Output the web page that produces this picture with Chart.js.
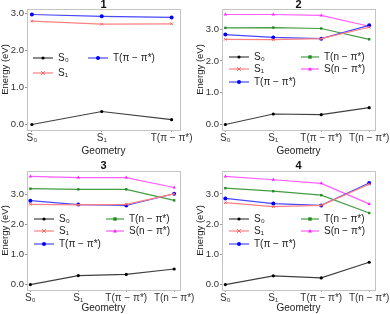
<!DOCTYPE html>
<html>
<head>
<meta charset="utf-8">
<script src="https://cdn.jsdelivr.net/npm/chart.js@4/dist/chart.umd.min.js"></script>
<style>
html,body{margin:0;padding:0;background:#fff;}
#wrap{position:relative;width:390px;height:314px;overflow:hidden;}
canvas{position:absolute;}
</style>
</head>
<body>
<div id="wrap">
<canvas id="c1" width="195" height="157" style="left:0;top:0"></canvas>
<canvas id="c2" width="195" height="157" style="left:195px;top:0"></canvas>
<canvas id="c3" width="195" height="157" style="left:0;top:157px"></canvas>
<canvas id="c4" width="195" height="157" style="left:195px;top:157px"></canvas>
</div>
<script>
// ---------- data ----------
const geom3 = ['S\u2080', 'S\u2081', 'T(\u03c0 \u2212 \u03c0*)'];
const geom4 = ['S\u2080', 'S\u2081', 'T(\u03c0 \u2212 \u03c0*)', 'T(n \u2212 \u03c0*)'];
const stateNames = ['S\u2080', 'S\u2081', 'T(\u03c0 \u2212 \u03c0*)', 'T(n \u2212 \u03c0*)', 'S(n \u2212 \u03c0*)'];

const p1_S0  = [0.00, 0.35, 0.13];
const p1_S1  = [2.78, 2.70, 2.71];
const p1_Tpp = [2.96, 2.91, 2.88];

const p2_S0  = [0.00, 0.33, 0.31, 0.53];
const p2_S1  = [2.68, 2.67, 2.70, 3.06];
const p2_Tpp = [2.83, 2.74, 2.70, 3.12];
const p2_Tnp = [3.04, 3.05, 3.02, 2.68];
const p2_Snp = [3.46, 3.46, 3.43, 3.09];

const p3_S0  = [0.00, 0.30, 0.34, 0.52];
const p3_S1  = [2.68, 2.66, 2.68, 3.03];
const p3_Tpp = [2.80, 2.67, 2.64, 3.03];
const p3_Tnp = [3.20, 3.18, 3.18, 2.81];
const p3_Snp = [3.61, 3.57, 3.57, 3.24];

const p4_S0  = [0.00, 0.29, 0.22, 0.74];
const p4_S1  = [2.71, 2.58, 2.62, 3.32];
const p4_Tpp = [2.85, 2.68, 2.62, 3.36];
const p4_Tnp = [3.19, 3.09, 2.96, 2.37];
const p4_Snp = [3.58, 3.47, 3.35, 2.67];

const yTicks = [0, 1, 2, 3];

// ---------- styles ----------
const FONT = '"Liberation Sans", Arial, Helvetica, sans-serif';
const lineColors  = ['#404040', '#ff8080', '#4848ff', '#449c44', '#ff5cff'];
const pointColors = ['#000000', '#ff6060', '#0000ff', '#228b22', '#ff22ff'];
const pointStyles = ['circle', 'crossRot', 'circle', 'rect', 'triangle'];
const pointRadii  = [1.6, 1.8, 2.0, 1.7, 2.0];

function drawMarker(ctx, style, x, y, r, color) {
  ctx.save();
  ctx.fillStyle = color; ctx.strokeStyle = color; ctx.lineWidth = 1;
  ctx.beginPath();
  if (style === 'circle') { ctx.arc(x, y, r, 0, Math.PI * 2); ctx.fill(); }
  else if (style === 'rect') { ctx.fillRect(x - r, y - r, 2 * r, 2 * r); }
  else if (style === 'triangle') {
    ctx.moveTo(x, y - r); ctx.lineTo(x + r, y + r * 0.8); ctx.lineTo(x - r, y + r * 0.8); ctx.closePath(); ctx.fill();
  } else if (style === 'crossRot') {
    ctx.moveTo(x - r, y - r); ctx.lineTo(x + r, y + r); ctx.moveTo(x + r, y - r); ctx.lineTo(x - r, y + r); ctx.stroke();
  }
  ctx.restore();
}

const boxPlugin = {
  id: 'boxPlugin',
  afterDraw(chart) {
    const {ctx, chartArea: a} = chart;
    const o = chart.options.plugins.boxPlugin;
    ctx.save();
    ctx.strokeStyle = '#c4c4c4'; ctx.lineWidth = 1;
    ctx.strokeRect(Math.round(a.left) + 0.5, Math.round(a.top) + 0.5, Math.round(a.right - a.left), Math.round(a.bottom - a.top));
    // panel title
    ctx.fillStyle = '#111';
    ctx.font = 'bold 11px ' + FONT;
    ctx.textAlign = 'center'; ctx.textBaseline = 'middle';
    ctx.fillText(o.title, (a.left + a.right) / 2, o.titleY);
    // legend
    ctx.font = '10px ' + FONT;
    ctx.textAlign = 'left';
    o.legend.forEach(it => {
      const i = it.idx;
      const x0 = a.left + it.x, y = a.top + it.y;
      ctx.strokeStyle = lineColors[i]; ctx.lineWidth = 1.2;
      ctx.beginPath(); ctx.moveTo(x0, y); ctx.lineTo(x0 + it.w, y); ctx.stroke();
      drawMarker(ctx, pointStyles[i], x0 + it.w / 2, y, pointRadii[i], pointColors[i]);
      ctx.fillStyle = '#222';
      ctx.fillText(stateNames[i], x0 + it.w + 5, y + 0.5);
    });
    ctx.restore();
  }
};

function makePanel(id, title, labels, series, opt) {
  const all = series.flat();
  const lo = Math.min(...all), hi = Math.max(...all);
  const pad = (hi - lo) * 0.05;
  const datasets = series.map((vals, i) => ({
    label: stateNames[i],
    data: vals.map((v, k) => ({x: k, y: v})),
    borderColor: lineColors[i],
    backgroundColor: pointColors[i],
    pointBorderColor: pointColors[i],
    pointBackgroundColor: pointColors[i],
    pointStyle: pointStyles[i],
    pointRadius: pointRadii[i],
    pointBorderWidth: pointStyles[i] === 'crossRot' ? 1 : 0,
    borderWidth: 1.2,
    tension: 0,
    fill: false
  }));
  return new Chart(document.getElementById(id), {
    type: 'line',
    data: {datasets},
    plugins: [boxPlugin],
    options: {
      responsive: false,
      animation: false,
      devicePixelRatio: 1,
      layout: {padding: {top: opt.top, right: 15, bottom: 0, left: 0}},
      plugins: {
        legend: {display: false},
        tooltip: {enabled: false},
        title: {display: false},
        boxPlugin: {title: title, titleY: opt.titleY, legend: opt.legend}
      },
      scales: {
        x: {
          type: 'linear',
          min: -0.07,
          max: labels.length - 1 + 0.12,
          afterBuildTicks: s => { s.ticks = labels.map((_, k) => ({value: k})); },
          afterFit: s => { s.height = 157 - opt.bottom; },
          ticks: {
            callback: v => labels[v],
            font: {family: FONT, size: 10},
            color: '#333',
            padding: 0,
            maxRotation: 0,
            autoSkip: false
          },
          grid: {display: true, drawOnChartArea: false, drawTicks: true, tickLength: 2, color: '#999'},
          border: {display: false},
          title: {display: true, text: 'Geometry', font: {family: FONT, size: 10}, color: '#222', padding: {top: 0, bottom: 0}}
        },
        y: {
          type: 'linear',
          min: lo - pad,
          max: hi + pad,
          afterBuildTicks: s => { s.ticks = yTicks.map(v => ({value: v})); },
          afterFit: s => { s.width = 27; },
          ticks: {
            callback: v => v.toFixed(1),
            font: {family: FONT, size: 9.5},
            color: '#333',
            padding: 1
          },
          grid: {display: true, drawOnChartArea: false, drawTicks: true, tickLength: 2, color: '#999'},
          border: {display: false},
          title: {display: true, text: 'Energy (eV)', font: {family: FONT, size: 9.5}, color: '#222', padding: {top: 0, bottom: 0}}
        }
      }
    }
  });
}

const legend3 = [
  {idx: 0, x: 6, y: 49, w: 20},
  {idx: 1, x: 6, y: 64, w: 20},
  {idx: 2, x: 61, y: 49, w: 20}
];
const legend5 = [
  {idx: 0, x: 7, y: 48, w: 20},
  {idx: 1, x: 7, y: 60, w: 20},
  {idx: 2, x: 7, y: 73, w: 20},
  {idx: 3, x: 79, y: 48, w: 18},
  {idx: 4, x: 79, y: 60, w: 18}
];

makePanel('c1', '1', geom3, [p1_S0, p1_S1, p1_Tpp], {top: 9, bottom: 130, titleY: 5, legend: legend3});
makePanel('c2', '2', geom4, [p2_S0, p2_S1, p2_Tpp, p2_Tnp, p2_Snp], {top: 9, bottom: 130, titleY: 5, legend: legend5});
makePanel('c3', '3', geom4, [p3_S0, p3_S1, p3_Tpp, p3_Tnp, p3_Snp], {top: 14, bottom: 133, titleY: 8.5, legend: legend5});
makePanel('c4', '4', geom4, [p4_S0, p4_S1, p4_Tpp, p4_Tnp, p4_Snp], {top: 14, bottom: 133, titleY: 8.5, legend: legend5});
</script>
</body>
</html>
